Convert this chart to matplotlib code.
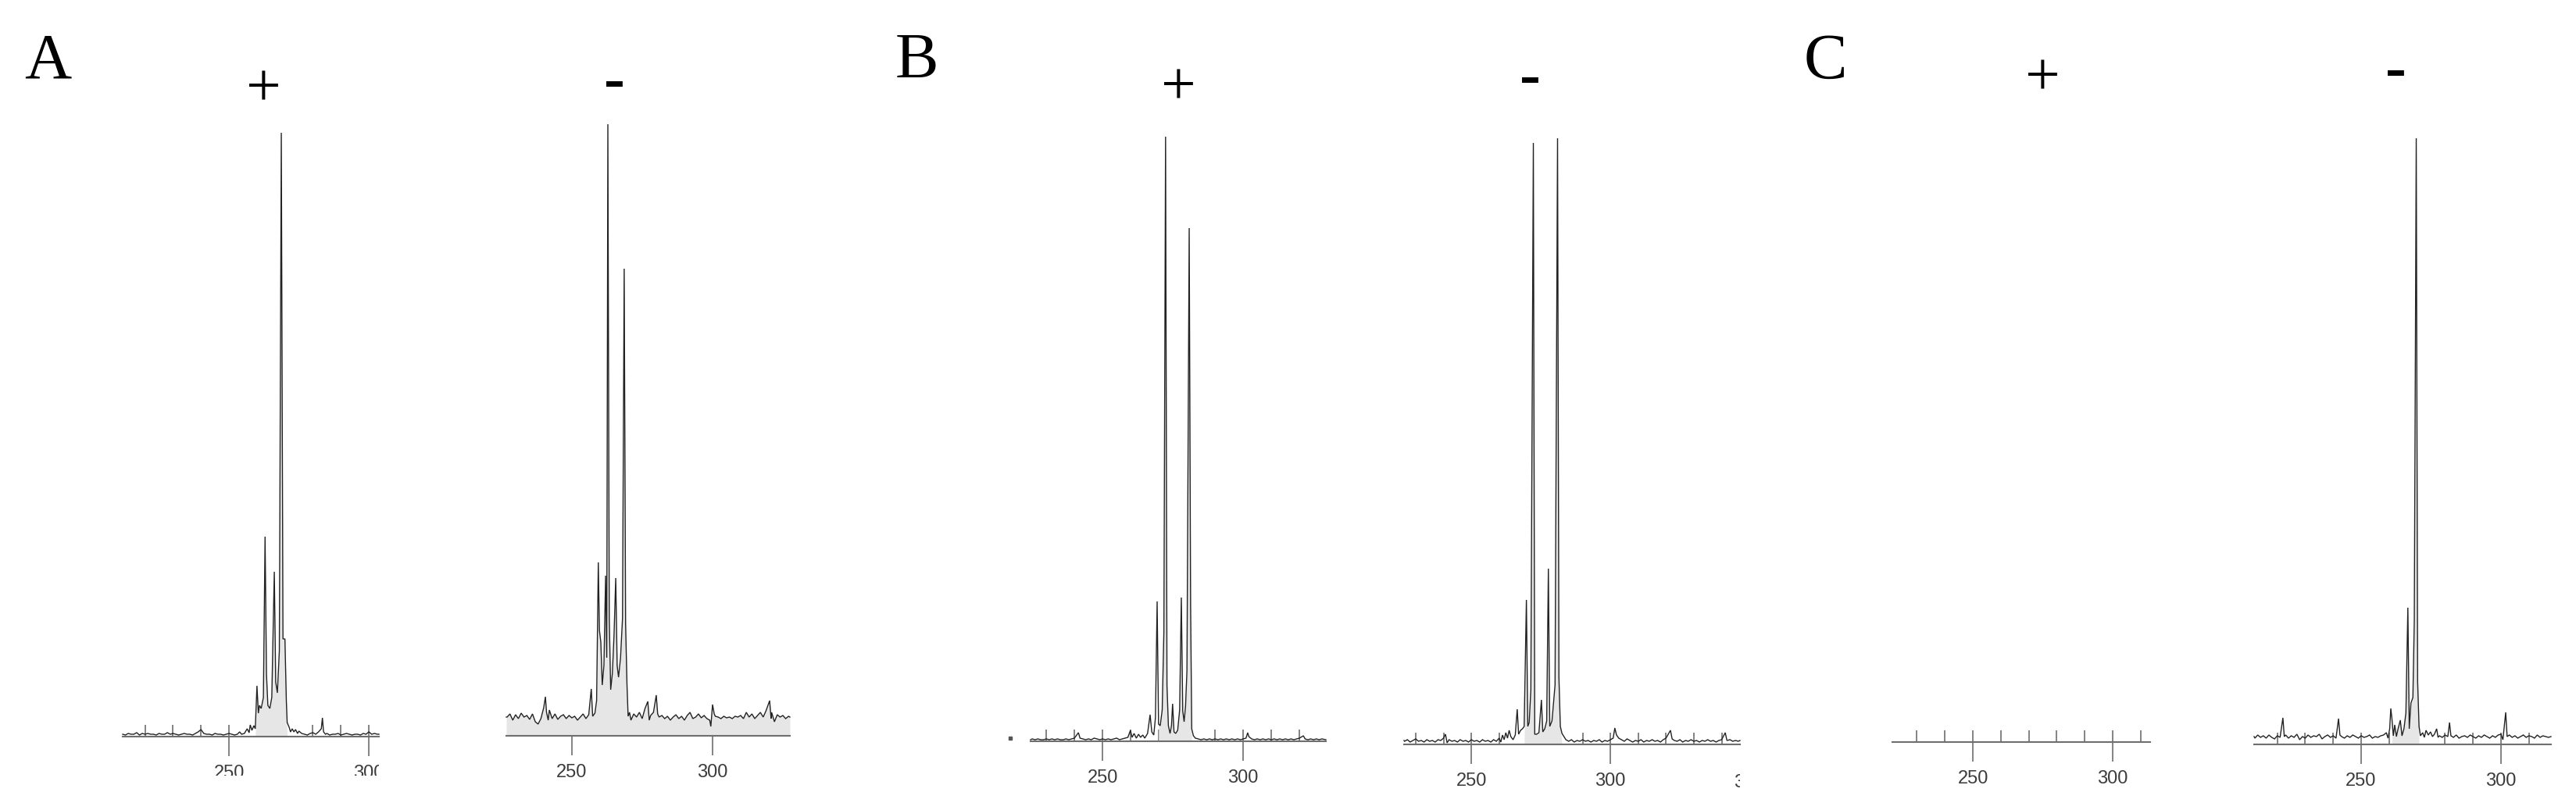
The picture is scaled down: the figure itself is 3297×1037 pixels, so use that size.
import matplotlib
matplotlib.use("Agg")
import matplotlib.pyplot as plt
import numpy as np
from matplotlib.transforms import Bbox, TransformedBbox

plt.rcParams['font.family'] = ['Liberation Sans', 'DejaVu Sans']

W, H, DPI = 3298, 1037, 100

A_PLUS = [(212,3),(213,2),(214,4),(215,3),(216,3),(217,5),(218,2),(219,4),(220,3),(221,4),(222,3),
          (223,3),(224,2),(225,4),(226,3),(227,3),(228,5),(229,3),(230,4),(231,3),(232,2),(233,3),
          (234,4),(235,3),(236,3),(237,2),(238,4),(239,6),(240,9),(241,4),(242,3),(243,3),(244,2),
          (245,4),(246,3),(247,3),(248,2),(249,3),(250,4),(251,3),(252,2),(253,3),(253.8,6),(254.5,3),
          (255.5,4),(256.5,10),(257.2,5),(257.6,15),(258.2,8),(258.9,14),(259.4,10),(260.0,65),
          (260.5,30),(260.9,40),(261.5,36),(262.3,50),(262.9,256),(263.4,80),(263.9,40),(264.6,36),
          (265.3,50),(266.2,211),(266.7,70),(267.3,56),(268.0,110),(268.7,773),(269.3,125),(270.0,125),
          (270.5,46),(270.8,18),(271.5,12),(272,6),(272.6,10),(273.2,6),(273.8,9),(274.5,4),(275,7),
          (276,4),(277,3),(278,2),(279,4),(280,5),(281,3),(282,6),(283,10),(283.4,24),(283.8,6),
          (284.5,3),(285,4),(286,2),(287,3),(288,3),(289,4),(290,2),(291,3),(292,4),(293,3),(294,2),
          (295,3),(296,3),(297,2),(298,4),(299,3),(300,6),(301,3),(302,4),(303,3),(303.6,3)]

A_MINUS = [(226.7,24),(227,24),(228,28),(229,20),(230,27),(231,22),(232,29),(233,24),(234,26),(235,21),
           (236,28),(237,18),(238,15),(239,22),(240,36),(240.6,50),(241,30),(241.6,20),(242,33),(243,22),
           (244,28),(245,21),(246,25),(247,27),(248,22),(249,26),(250,23),(251,25),(252,20),(253,24),
           (254,28),(255,22),(256,27),(256.9,60),(257.4,25),(258.2,29),(258.8,45),(259.4,222),(259.8,135),
           (260.3,120),(260.8,65),(261.4,90),(262.0,205),(262.4,100),(262.8,783),(263.3,150),(263.8,59),
           (264.4,80),(265.0,130),(265.6,202),(266.1,90),(266.6,75),(267.3,100),(268.0,150),(268.6,598),
           (269.1,144),(269.6,65),(270.0,25),(270.5,30),(271,20),(272,28),(273,24),(274,30),(275,22),
           (276,35),(277,44),(277.5,20),(278,26),(279,30),(280,52),(280.5,28),(281,24),(282,26),(283,22),
           (284,25),(285,20),(286,24),(287,27),(288,22),(289,25),(290,20),(291,26),(292,30),(293,22),
           (294,24),(295,28),(296,23),(297,26),(298,22),(299,20),(299.4,12),(300,40),(300.6,28),(301,25),
           (302,24),(303,22),(304,25),(305,23),(306,24),(307,22),(308,25),(309,24),(310,26),(311,22),
           (312,30),(313,24),(314,28),(315,22),(316,26),(317,30),(318,24),(319,32),(320.3,45),(320.8,22),
           (321,30),(322,18),(323,27),(324,24),(325,26),(326,22),(327,25),(327.5,24)]

B_PLUS = [(224.4,2),(225,3),(226,2),(227,3),(228,2),(229,2),(230,3),(231,2),(232,3),(233,2),(234,3),
          (235,2),(236,2),(237,3),(238,2),(239,3),(240,4),(241.4,11),(242,4),(243,3),(244,2),(245,3),
          (246,2),(247,4),(248,3),(249,2),(250,3),(251,2),(252,3),(253,2),(254,3),(255,4),(256,2),(257,3),
          (258,4),(259,5),(259.9,14),(260.5,5),(261.2,10),(262,4),(262.8,9),(263.5,5),(264.3,8),(265,4),
          (266,10),(266.9,34),(267.5,12),(268.2,8),(268.8,30),(269.4,179),(269.9,22),(270.5,20),(271.2,40),
          (271.8,140),(272.4,774),(272.9,72),(273.4,20),(274,10),(274.5,20),(274.9,48),(275.4,12),(276,10),
          (276.7,14),(277.4,40),(278,184),(278.5,39),(279,25),(279.5,45),(280,90),(280.8,657),(281.3,176),
          (281.7,16),(282.3,7),(283,4),(284,3),(285,2),(286,3),(287,2),(288,3),(289,2),(290,3),(291,2),
          (292,3),(293,2),(294,3),(295,2),(296,3),(297,2),(298,3),(299,2),(300,3),(301,4),(301.6,11),
          (302,6),(303,3),(304,2),(305,3),(306,2),(307,3),(308,2),(309,3),(310,2),(311,3),(312,2),(313,3),
          (314,2),(315,3),(316,2),(317,3),(318,2),(319,3),(320,4),(321.4,7),(322,3),(323,2),(324,3),
          (325,2),(326,3),(327,2),(328,3),(329.4,2)]

B_MINUS = [(225.8,5),(226,4),(227,6),(228,3),(229,5),(230,7),(231,4),(232,5),(233,3),(234,6),(235,4),
           (236,5),(237,3),(238,6),(239,5),(240,8),(240.7,13),(241.3,2),(242,6),(243,4),(244,5),(245,3),
           (246,6),(247,4),(248,5),(249,3),(250,6),(251,4),(252,5),(253,3),(254,6),(255,4),(256,5),(257,3),
           (258,6),(259,4),(260,8),(260.6,3),(261.2,12),(261.8,6),(262.4,15),(263,8),(263.6,18),(264.2,10),
           (265,6),(265.8,12),(266.5,45),(267,13),(267.7,18),(268.4,20),(269,23),(269.8,185),(270.3,23),
           (270.8,28),(271.4,70),(272.3,770),(272.8,13),(273.5,13),(274.3,15),(275.2,57),(275.7,16),
           (276.4,20),(277.1,30),(277.7,225),(278.2,23),(279,30),(280.1,76),(281,776),(281.5,86),(282,23),
           (282.6,14),(283.3,10),(284,6),(285,4),(286,6),(287,3),(288,5),(289,4),(290,6),(291,4),(292,5),
           (293,3),(294,5),(295,4),(296,6),(297,3),(298,5),(299,4),(300,6),(301,8),(301.6,21),(302.2,12),
           (303,8),(304,6),(305,4),(306,7),(307,5),(308,3),(309,5),(310,4),(311,6),(312,3),(313,5),(314,4),
           (315,6),(316,4),(317,5),(318,3),(319,6),(320,8),(321.6,18),(322.2,7),(323,5),(324,4),(325,6),
           (326,3),(327,5),(328,4),(329,6),(330,4),(331,5),(332,3),(333,5),(334,4),(335,6),(336,4),(337,5),
           (338,3),(339,5),(340,6),(341.3,15),(341.9,5),(343,6),(344,4),(345,5),(346,4),(346.6,5)]

C_PLUS = []  # no signal

C_MINUS = [(211.7,10),(212,8),(213,12),(214,9),(215,11),(216,8),(217,12),(218,9),(219,7),(220,11),(221,9),
           (222,34),(222.5,10),(223,12),(224,8),(225,11),(226,9),(227,13),(228,6),(229,10),(230,8),(231,12),
           (232,9),(233,11),(234,10),(235,13),(236,7),(237,10),(238,12),(239,9),(240,11),(241,8),(241.9,33),
           (242.4,12),(243,10),(244,8),(245,11),(246,9),(247,12),(248,10),(249,8),(250,11),(251,9),(252,10),
           (253,12),(254,8),(255,10),(256,9),(257,11),(258,12),(259,15),(259.6,8),(260.2,20),(260.6,46),
           (261.0,33),(261.5,11),(262,25),(262.6,10),(263.2,20),(264,31),(264.6,11),(265.3,20),(266.0,40),
           (266.7,175),(267.2,20),(267.8,53),(268.5,60),(269.0,158),(269.7,776),(270.2,80),(270.7,23),
           (271.2,11),(272,15),(272.6,9),(273.2,18),(274,12),(274.8,16),(275.5,10),(276.2,13),(277,20),
           (277.5,9),(278,11),(279,9),(280,12),(281,10),(281.6,28),(282.1,11),(283,9),(284,12),(285,8),
           (286,10),(287,11),(288,9),(289,12),(290,10),(291,8),(292,11),(293,9),(294,12),(295,10),(296,8),
           (297,11),(298,9),(299,12),(300,13),(300.7,6),(301.7,41),(302.2,10),(303,12),(304,9),(305,11),
           (306,8),(307,10),(308,12),(309,9),(310,11),(311,10),(312,8),(313,12),(314,9),(315,11),(316,10),
           (317,9),(317.9,10)]

# shaded peak-area windows (bp)
A_PLUS_FILL = (259.8, 270.6)
A_MINUS_FILL = (226.7, 327.5)
B_PLUS_FILL = (269.8, 281.6)
B_MINUS_FILL = (269.6, 282.2)
C_PLUS_FILL = None
C_MINUS_FILL = (260.8, 270.6)

# stray dot left of panel B(+) axis
B_PLUS_DOT = (217.2, 4)

MAJOR_TICKS = [250, 300]
PANEL_LETTERS = ["A", "B", "C"]
SIGNS = ["+", "-"]

# ---------------- layout (figure pixels) ----------------
layout = [
    dict(trace=A_PLUS,  fill=A_PLUS_FILL,  l=157,  r=485,  y=943, xlim=(212.0, 303.6)),
    dict(trace=A_MINUS, fill=A_MINUS_FILL, l=648,  r=1011, y=942, xlim=(226.7, 327.5)),
    dict(trace=B_PLUS,  fill=B_PLUS_FILL,  l=1319, r=1697, y=949, xlim=(224.4, 329.4)),
    dict(trace=B_MINUS, fill=B_MINUS_FILL, l=1797, r=2227, y=953, xlim=(225.8, 346.6)),
    dict(trace=C_PLUS,  fill=C_PLUS_FILL,  l=2422, r=2752, y=950, xlim=(221.2, 313.4)),
    dict(trace=C_MINUS, fill=C_MINUS_FILL, l=2885, r=3265, y=953, xlim=(211.7, 317.9)),
]
TOP = 100

fig = plt.figure(figsize=(W / DPI, H / DPI), dpi=DPI)

def px_bbox(x0, y0, x1, y1):
    """clip box given in figure pixels (y downward)"""
    return TransformedBbox(Bbox.from_extents(x0 / W, 1 - y1 / H, x1 / W, 1 - y0 / H), fig.transFigure)

axes = []
for p in layout:
    ax = fig.add_axes([p['l'] / W, 1 - p['y'] / H, (p['r'] - p['l']) / W, (p['y'] - TOP) / H])
    ax.set_xlim(*p['xlim'])
    ax.set_ylim(0, p['y'] - TOP)
    for s in ('top', 'left', 'right'):
        ax.spines[s].set_visible(False)
    ax.spines['bottom'].set_color('#6e6e6e')
    ax.spines['bottom'].set_linewidth(1.5)
    ax.set_yticks([])
    ax.set_xticks(MAJOR_TICKS)
    ax.tick_params(axis='x', direction='out', length=18, width=1.2, color='#6e6e6e',
                   labelsize=17, labelcolor='#3c3c3c', pad=8)
    ax.patch.set_alpha(0)
    # small upward ticks every 10 bp
    sec = ax.secondary_xaxis(0)
    lo, hi = p['xlim']
    sec.set_xticks(np.arange(np.ceil(lo / 10) * 10, hi + 0.01, 10))
    sec.tick_params(axis='x', direction='in', length=10.5, width=1.2, color='#6e6e6e',
                    labelbottom=False)
    sec.spines['bottom'].set_visible(False)

    tr = p['trace']
    if tr:
        bx = np.array([t[0] for t in tr])
        ry = np.array([t[1] for t in tr])
        if p['fill'] is not None:
            f0, f1 = p['fill']
            m = (bx >= f0) & (bx <= f1)
            ax.fill_between(bx, 0, ry, where=m, color='#e6e6e6', lw=0, interpolate=True, zorder=1)
        ax.plot(bx, ry, color='#222222', lw=1.0, zorder=3, solid_joinstyle='miter', clip_on=False)
    axes.append(ax)

# stray dot in panel B(+)
axes[2].plot([B_PLUS_DOT[0]], [B_PLUS_DOT[1]], 's', ms=2.2, color='#555555', clip_on=False)

# partially visible "350" label in panel B(-)
t350 = axes[3].text(350, -0.045, '350', transform=axes[3].get_xaxis_transform(), ha='center',
                    va='top', fontsize=17, color='#3c3c3c')
t350.set_clip_box(px_bbox(0, 0, 2227, H))
t350.set_clip_on(True)

# panel letters and +/- headings
letter_pos = [(31, 100), (1146, 99), (2309, 100)]
for (x, y), lab in zip(letter_pos, PANEL_LETTERS):
    fig.text(x / W, 1 - y / H, lab, fontsize=60, family='Liberation Serif', ha='left', va='baseline')

sign_pos = [(337, 135, '+'), (786, 127, '-'), (1508, 133, '+'), (1958, 122, '-'),
            (2614, 122, '+'), (3066, 113, '-')]
for x, y, s in sign_pos:
    if s == '+':
        fig.text(x / W, 1 - y / H, s, fontsize=57, family='Liberation Serif', ha='center', va='baseline')
    else:
        fig.text(x / W, 1 - y / H, s, fontsize=58, family='Liberation Serif', fontweight='bold',
                 ha='center', va='baseline')

# clip the tick labels of panel A(+) as in the original scan
fig.canvas.draw()
for lbl in axes[0].get_xticklabels():
    lbl.set_clip_box(px_bbox(0, 0, 485, 993))
    lbl.set_clip_on(True)

fig.savefig('out.png', dpi=DPI)
